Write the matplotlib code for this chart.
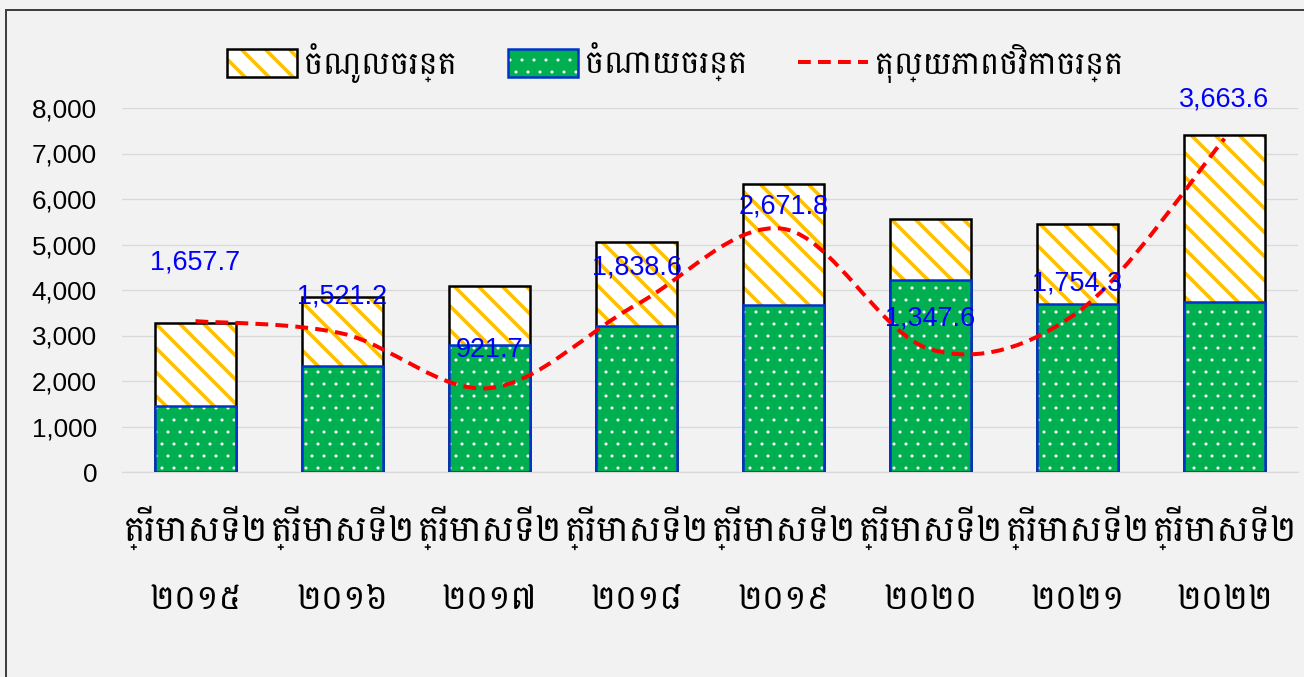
import numpy as np
import matplotlib
matplotlib.use("Agg")
import matplotlib.pyplot as plt
from matplotlib import font_manager
from matplotlib.font_manager import FontProperties
from matplotlib.patches import Patch, Rectangle
from matplotlib.lines import Line2D
from matplotlib.path import Path
from matplotlib.patches import PathPatch
from matplotlib.legend_handler import HandlerTuple
from matplotlib.ticker import FuncFormatter

# Khmer font (Battambang) + latin font for numbers
khmer_path = "/usr/share/fonts/truetype/google-fonts/Battambang-Regular.ttf"
font_manager.fontManager.addfont(khmer_path)
plt.rcParams['font.family'] = ['Liberation Sans Narrow', 'Liberation Sans', 'DejaVu Sans']

# data
quarters = ['ត្រីមាសទី២'] * 8
years = ['២០១៥', '២០១៦', '២០១៧', '២០១៨', '២០១៩', '២០២០', '២០២១', '២០២២']
revenue = [3280, 3840, 4080, 5050, 6340, 5550, 5460, 7400]
expenditure = [1450, 2320, 2800, 3200, 3660, 4210, 3700, 3730]
balance = [1657.7, 1521.2, 921.7, 1838.6, 2671.8, 1347.6, 1754.3, 3663.6]
label_offsets = [59, 37, 38, 37, 22, 31, 29, 39]

legend_labels = ['ចំណូលចរន្ត', 'ចំណាយចរន្ត', 'តុល្យភាពថវិកាចរន្ត']

yellow = '#FFC000'
green = '#00B050'
blue_edge = '#0033CC'
bg = '#F2F2F2'

W, H = 1304, 677
fig = plt.figure(figsize=(W / 72, H / 72), dpi=72, facecolor=bg)
ax = fig.add_axes([122 / W, (H - 472) / H, 1176 / W, 364 / H])
ax.set_facecolor('none')

x = np.arange(len(years))
bw = 0.55

# revenue: white base with yellow diagonal stripes, black outline
plt.rcParams['hatch.linewidth'] = 3.6
ax.bar(x, revenue, bw, color='white', edgecolor=yellow, linewidth=0, hatch='\\', zorder=2)
ax.bar(x, revenue, bw, fill=False, edgecolor='black', linewidth=2.5, zorder=3)

# expenditure: green with white dots, blue outline
plt.rcParams['hatch.linewidth'] = 0.6
ax.bar(x, expenditure, bw, color=green, edgecolor='white', linewidth=0, hatch='.', zorder=4)
ax.bar(x, expenditure, bw, fill=False, edgecolor=blue_edge, linewidth=2.5, zorder=5)

ax.set_xlim(-0.5, len(years) - 0.5)
ax.set_ylim(0, 8000)
ax.set_yticks(np.arange(0, 8001, 1000))
ax.yaxis.set_major_formatter(FuncFormatter(lambda v, p: f'{v:,.0f}'))
ax.tick_params(axis='y', length=0, pad=25, labelsize=26, labelcolor='black')
ax.tick_params(axis='x', length=0, labelbottom=False)
ax.set_xticks(x)
ax.grid(axis='y', color='#D9D9D9', linewidth=1.3)
ax.set_axisbelow(True)
for s in ['top', 'right', 'left']:
    ax.spines[s].set_visible(False)
ax.spines['bottom'].set_color('#D9D9D9')
ax.spines['bottom'].set_linewidth(1.3)

# category labels (two lines)
qf = FontProperties(fname=khmer_path, size=36)
yf = FontProperties(fname=khmer_path, size=34)
for i in range(len(years)):
    ax.annotate(quarters[i], xy=(x[i], 0), xycoords=('data', 'axes fraction'),
                xytext=(0, -56), textcoords='offset points', ha='center', va='center',
                fontproperties=qf)
    ax.annotate(years[i], xy=(x[i], 0), xycoords=('data', 'axes fraction'),
                xytext=(0, -128), textcoords='offset points', ha='center', va='center',
                fontproperties=yf)

# balance line on hidden secondary axis, smoothed with bezier segments
ax2 = ax.twinx()
ax2.set_ylim(0, 4000)
ax2.axis('off')
pts = np.column_stack([x, balance]).astype(float)
ext = np.vstack([pts[0], pts, pts[-1]])
verts = [tuple(pts[0])]
codes = [Path.MOVETO]
for i in range(len(pts) - 1):
    p0, p1, p2, p3 = ext[i], ext[i + 1], ext[i + 2], ext[i + 3]
    c1 = p1 + (p2 - p0) / 6
    c2 = p2 - (p3 - p1) / 6
    verts += [tuple(c1), tuple(c2), tuple(p2)]
    codes += [Path.CURVE4] * 3
curve = PathPatch(Path(verts, codes), fill=False, edgecolor='#FF0000', linewidth=4,
                  linestyle=(0, (3.2, 1.8)), zorder=6)
ax2.add_patch(curve)

for i, v in enumerate(balance):
    ax2.annotate(f'{v:,.1f}', xy=(x[i], v), xytext=(0, label_offsets[i]),
                 textcoords='offset points', ha='center', va='center',
                 color='#0000FF', fontsize=27, zorder=7)

# legend
h_rev = (Patch(facecolor='white', edgecolor=yellow, hatch='\\', linewidth=0),
         Patch(fill=False, edgecolor='black', linewidth=2.5))
h_exp = (Patch(facecolor=green, edgecolor='white', hatch='.', linewidth=0),
         Patch(fill=False, edgecolor=blue_edge, linewidth=2.5))
h_bal = Line2D([], [], color='#FF0000', linewidth=4, linestyle=(0, (3.2, 1.8)))
leg = fig.legend([h_rev, h_exp, h_bal], legend_labels,
                 handler_map={tuple: HandlerTuple(ndivide=1)},
                 loc='center', bbox_to_anchor=(675 / W, (H - 63) / H), ncol=3, frameon=False,
                 prop=FontProperties(fname=khmer_path, size=32),
                 handlelength=2.2, handleheight=0.95, handletextpad=0.2, columnspacing=1.6)
# thicker stripes for the revenue legend patch
for p in leg.findobj(Rectangle):
    if p.get_hatch() == '\\':
        if hasattr(p, 'set_hatch_linewidth'):
            p.set_hatch_linewidth(3.6)
        else:
            p._hatch_linewidth = 3.6

# chart border (top and left visible)
fig.add_artist(Rectangle((6 / W, -0.05), 1.2, (H - 10) / H + 0.05, transform=fig.transFigure,
                         fill=False, edgecolor='#404040', linewidth=2))

fig.savefig('out.png', dpi=72, facecolor=bg)
